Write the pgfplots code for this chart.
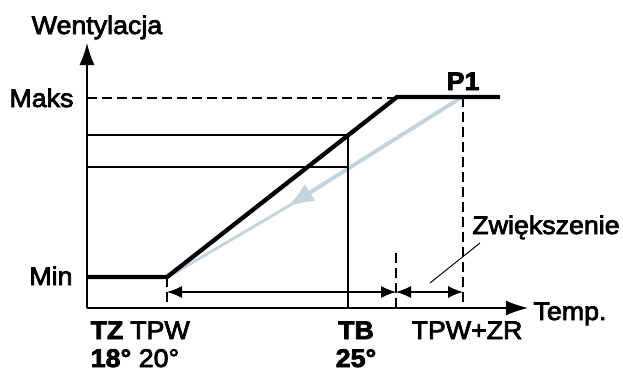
\documentclass[border=0pt]{standalone}
\usepackage{pgfplots}
\pgfplotsset{compat=1.18}
\usepackage{fontspec}
\setmainfont{Liberation Sans}[FakeStretch=1.05,FakeBold=3]
\usetikzlibrary{arrows.meta}
\definecolor{lightarrow}{RGB}{195,212,221}
\newcommand\lbl{\fontsize{25.5bp}{30bp}\selectfont}
\begin{document}
\begin{tikzpicture}
\begin{axis}[x=1bp,y=1bp,xmin=0,xmax=623,ymin=0,ymax=371,y dir=reverse,
  hide axis,clip=false,anchor=south west,at={(0,0)}]
% light blue return arrow
\addplot[lightarrow,line width=4bp,-{Latex[length=27bp,width=20bp]}] coordinates {(462,97) (287,207)};
\addplot[lightarrow,line width=2.8bp] coordinates {(292,204) (168,277)};
% thin guide lines
\addplot[black,line width=1.2bp] coordinates {(87,135) (348,135) (348,308)};
\addplot[black,line width=1.2bp] coordinates {(87,167) (348,167)};
% Maks dashed
\addplot[black,line width=1.7bp,dash pattern=on 10bp off 5bp] coordinates {(87,98) (397,98)};
% dashed verticals
\addplot[black,line width=1.7bp,dash pattern=on 10bp off 5bp] coordinates {(463,97) (463,308)};
\addplot[black,line width=1.7bp,dash pattern=on 10bp off 5bp] coordinates {(396,253) (396,308)};
\addplot[black,line width=1.7bp,dash pattern=on 10bp off 5bp] coordinates {(167,277) (167,308)};
% dimension arrows
\addplot[black,line width=1.2bp,{Latex[length=15bp,width=12bp]}-{Latex[length=15bp,width=12bp]}] coordinates {(167,292) (396,292)};
\addplot[black,line width=1.2bp,{Latex[length=15bp,width=12bp]}-{Latex[length=15bp,width=12bp]}] coordinates {(396,292) (463,292)};
% leader line
\addplot[black,line width=1bp] coordinates {(430,283) (480,243)};
% thick characteristic
\addplot[black,line width=4.3bp] coordinates {(87,277) (167,277) (397,97) (500,97)};
% axes
\addplot[black,line width=1.5bp,-{Latex[length=22bp,width=15bp]}] coordinates {(87,308) (87,43)};
\addplot[black,line width=1.5bp,-{Latex[length=22bp,width=15bp]}] coordinates {(87,308) (528,308)};
% labels
\node[font=\lbl,anchor=base] at (axis cs:97,34) {Wentylacja};
\node[font=\lbl,anchor=base east] at (axis cs:77,107) {Maks};
\node[font=\lbl,anchor=base east] at (axis cs:76,285) {Min};
\node[font=\lbl\bfseries,anchor=base] at (axis cs:463,90) {P1};
\node[font=\lbl,anchor=base] at (axis cs:546,234) {Zwiększenie};
\node[font=\lbl,anchor=base west] at (axis cs:530,320) {Temp.};
\node[font=\lbl\bfseries,anchor=base] at (axis cs:107,339) {TZ};
\node[font=\lbl,anchor=base] at (axis cs:160,339) {TPW};
\node[font=\lbl\bfseries,anchor=base] at (axis cs:111,367) {18°};
\node[font=\lbl,anchor=base] at (axis cs:159,367) {20°};
\node[font=\lbl\bfseries,anchor=base] at (axis cs:356,339) {TB};
\node[font=\lbl\bfseries,anchor=base] at (axis cs:356,367) {25°};
\node[font=\lbl,anchor=base] at (axis cs:467,339) {TPW+ZR};
\end{axis}
\pgfresetboundingbox
\path (0,0) rectangle (623bp,371bp);
\end{tikzpicture}
\end{document}
